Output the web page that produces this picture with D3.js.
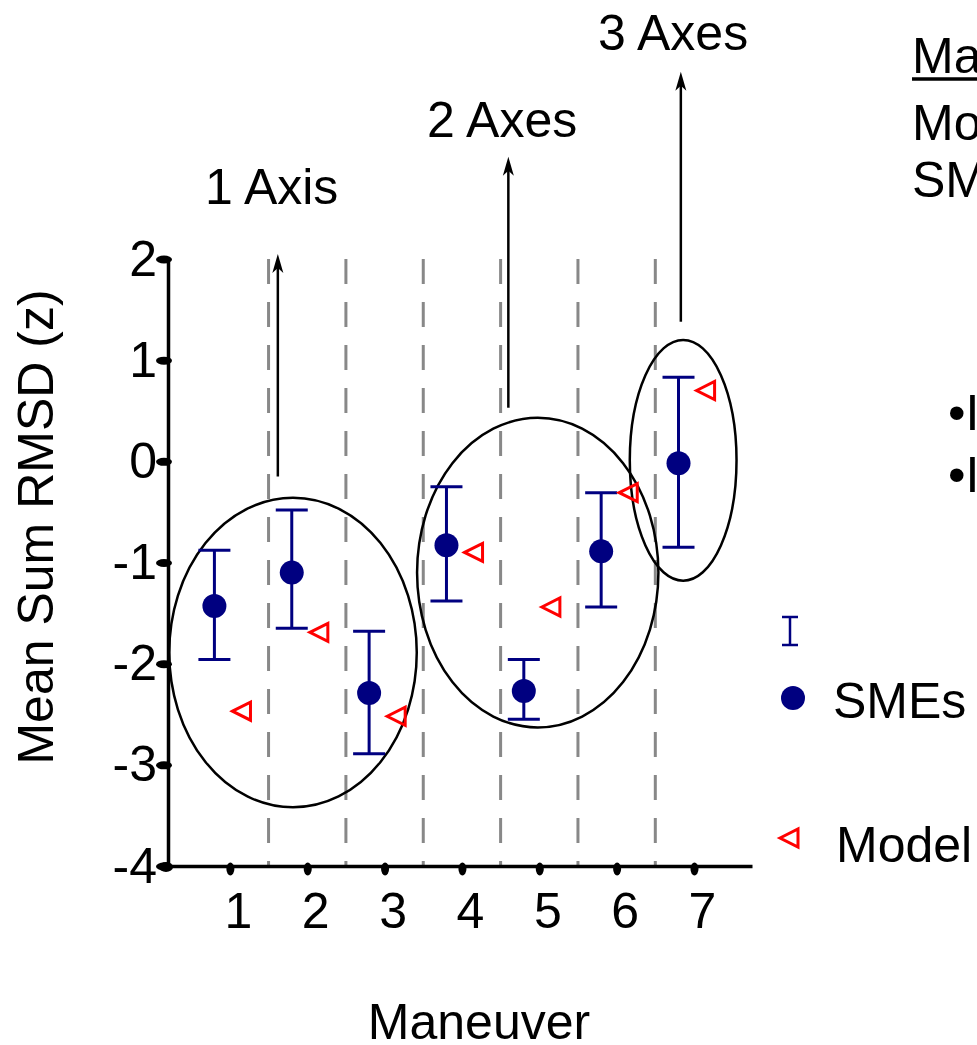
<!DOCTYPE html>
<html>
<head>
<meta charset="utf-8">
<script src="https://cdn.jsdelivr.net/npm/d3@7/dist/d3.min.js"></script>
<style>
  html, body { margin: 0; padding: 0; background: #fff; overflow: hidden; }
  svg { display: block; font-family: "Liberation Sans", Arial, sans-serif; }
</style>
</head>
<body>
<svg id="chart" width="977" height="1045"></svg>
<script>
// ---- data ----
const maneuvers = [1, 2, 3, 4, 5, 6, 7];
const smeMean  = [-1.43, -1.10, -2.29, -0.83, -2.27, -0.89, -0.02];
const smeUpper = [-0.88, -0.48, -1.68, -0.25, -1.96, -0.31, 0.83];
const smeLower = [-1.96, -1.65, -2.89, -1.38, -2.55, -1.44, -0.85];
const modelValue = [-2.47, -1.69, -2.52, -0.90, -1.44, -0.31, 0.70];
const yTicks = [-4, -3, -2, -1, 0, 1, 2];
const xTicks = [1, 2, 3, 4, 5, 6, 7];
const groupLabels = ["1 Axis", "2 Axes", "3 Axes"];

// ---- layout ----
const W = 977, H = 1045;
const svg = d3.select("#chart");
svg.append("rect").attr("width", W).attr("height", H).attr("fill", "#fff");

const x = d3.scaleLinear().domain([0.2, 7.75]).range([168, 752]);
const y = d3.scaleLinear().domain([-4, 2]).range([866, 259]);

const navy = "#000080", red = "#ff0000";
const FS = 50;

// dashed separators between maneuvers
const seps = maneuvers.slice(0, -1).map(m => m + 0.5);
svg.append("g").selectAll("line").data(seps).join("line")
  .attr("x1", d => x(d)).attr("x2", d => x(d))
  .attr("y1", y(2)).attr("y2", y(-4))
  .attr("stroke", "#888").attr("stroke-width", 3)
  .attr("stroke-dasharray", "25,18");

// group ellipses (in data units)
const groupEllipses = [
  {cx: 1.816, cy: -1.89, rx: 1.60, ry: 1.53},
  {cx: 4.98,  cy: -1.10, rx: 1.56, ry: 1.53},
  {cx: 6.86,  cy: 0.01,  rx: 0.69, ry: 1.19}
];
const sx = x(1) - x(0), sy = y(0) - y(1);
svg.append("g").selectAll("ellipse").data(groupEllipses).join("ellipse")
  .attr("cx", d => x(d.cx)).attr("cy", d => y(d.cy))
  .attr("rx", d => d.rx * sx).attr("ry", d => d.ry * sy)
  .attr("fill", "none").attr("stroke", "#000").attr("stroke-width", 2.5);

// arrows and group labels
const groupArrows = [
  {x: 1.62, y0: -0.15, y1: 2.05, lx: 1.54, ly: 2.54},
  {x: 4.60, y0: 0.53,  y1: 3.01, lx: 4.52, ly: 3.21},
  {x: 6.83, y0: 1.38,  y1: 3.85, lx: 6.73, ly: 4.07}
];
const ag = svg.append("g");
groupArrows.forEach((a, i) => {
  ag.append("line")
    .attr("x1", x(a.x)).attr("x2", x(a.x))
    .attr("y1", y(a.y0)).attr("y2", y(a.y1) + 10)
    .attr("stroke", "#000").attr("stroke-width", 2.5);
  ag.append("path")
    .attr("d", `M0,0 L5.5,19 L0,14 L-5.5,19 Z`)
    .attr("transform", `translate(${x(a.x)},${y(a.y1)})`)
    .attr("fill", "#000");
  ag.append("text")
    .attr("x", x(a.lx)).attr("y", y(a.ly))
    .attr("text-anchor", "middle").attr("font-size", FS)
    .text(groupLabels[i]);
});

// axes
const yAxis = d3.axisLeft(y).tickValues(yTicks).tickFormat(d => String(d)).tickSize(0).tickPadding(11);
const gy = svg.append("g").attr("transform", `translate(${x(0.2)},0)`).call(yAxis);
gy.select(".domain").attr("stroke", "#000").attr("stroke-width", 3.5);
gy.selectAll(".tick text").attr("font-size", FS).attr("font-family", "Liberation Sans, Arial, sans-serif").attr("fill", "#000");
gy.selectAll(".tick").append("ellipse")
  .attr("cx", -4).attr("cy", 0).attr("rx", 8).attr("ry", 4).attr("fill", "#000");

const xAxis = d3.axisBottom(x).tickValues(xTicks).tickFormat(d => String(d)).tickSize(0).tickPadding(0);
const gx = svg.append("g").attr("transform", `translate(0,${y(-4)})`).call(xAxis);
gx.select(".domain").attr("stroke", "#000").attr("stroke-width", 3.5);
gx.selectAll(".tick text").attr("font-size", FS).attr("font-family", "Liberation Sans, Arial, sans-serif")
  .attr("fill", "#000").attr("dy", null).attr("y", 62).attr("x", 8);
gx.selectAll(".tick").append("ellipse")
  .attr("cx", 0).attr("cy", 3).attr("rx", 4).attr("ry", 6.5).attr("fill", "#000");
// origin dot
svg.append("ellipse").attr("cx", x(0.2) - 2).attr("cy", y(-4) + 1).attr("rx", 7).attr("ry", 5).attr("fill", "#000");

// axis titles
svg.append("text")
  .attr("transform", `translate(53,527) rotate(-90)`)
  .attr("text-anchor", "middle").attr("font-size", FS).text("Mean Sum RMSD (z)");
svg.append("text")
  .attr("x", 479).attr("y", 1039)
  .attr("text-anchor", "middle").attr("font-size", FS).text("Maneuver");

// SME error bars and points
const smeOff = -0.2, modelOff = 0.15, capHalf = 16;
const eg = svg.append("g").attr("stroke", navy).attr("stroke-width", 3);
maneuvers.forEach((m, i) => {
  const cx = x(m + smeOff);
  eg.append("line").attr("x1", cx).attr("x2", cx).attr("y1", y(smeUpper[i])).attr("y2", y(smeLower[i]));
  eg.append("line").attr("x1", cx - capHalf).attr("x2", cx + capHalf).attr("y1", y(smeUpper[i])).attr("y2", y(smeUpper[i]));
  eg.append("line").attr("x1", cx - capHalf).attr("x2", cx + capHalf).attr("y1", y(smeLower[i])).attr("y2", y(smeLower[i]));
});
svg.append("g").selectAll("circle").data(maneuvers).join("circle")
  .attr("cx", m => x(m + smeOff)).attr("cy", (m, i) => y(smeMean[i]))
  .attr("r", 12).attr("fill", navy);

// model triangles (pointing left)
const tri = "M-9,0 L9,-9 L9,9 Z";
svg.append("g").selectAll("path").data(maneuvers).join("path")
  .attr("d", tri)
  .attr("transform", (m, i) => `translate(${x(m + modelOff)},${y(modelValue[i])})`)
  .attr("fill", "none").attr("stroke", red).attr("stroke-width", 3).attr("stroke-linejoin", "miter");

// legend
const lg = svg.append("g");
lg.append("line").attr("x1", 790).attr("x2", 790).attr("y1", 617).attr("y2", 645).attr("stroke", navy).attr("stroke-width", 2.5);
lg.append("line").attr("x1", 782).attr("x2", 798).attr("y1", 617).attr("y2", 617).attr("stroke", navy).attr("stroke-width", 2.5);
lg.append("line").attr("x1", 782).attr("x2", 798).attr("y1", 645).attr("y2", 645).attr("stroke", navy).attr("stroke-width", 2.5);
lg.append("circle").attr("cx", 793).attr("cy", 698).attr("r", 12).attr("fill", navy);
lg.append("text").attr("x", 833).attr("y", 718).attr("font-size", FS).text("SMEs");
lg.append("path").attr("d", tri).attr("transform", "translate(789,838)")
  .attr("fill", "none").attr("stroke", red).attr("stroke-width", 3);
lg.append("text").attr("x", 836).attr("y", 862).attr("font-size", FS).text("Model");

// right-side notes (cut off at the page edge, as in the reference)
const notes = svg.append("g").attr("font-size", FS);
notes.append("text").attr("x", 912).attr("y", 73).text("Maneuver");
notes.append("line").attr("x1", 912).attr("x2", 977).attr("y1", 79).attr("y2", 79).attr("stroke", "#000").attr("stroke-width", 3.5);
notes.append("text").attr("x", 912).attr("y", 140).text("Model");
notes.append("text").attr("x", 912).attr("y", 197).text("SMEs");
notes.append("text").attr("x", 948).attr("y", 430).text("•Individual");
notes.append("text").attr("x", 948).attr("y", 492).text("•Interaction");
</script>
</body>
</html>
